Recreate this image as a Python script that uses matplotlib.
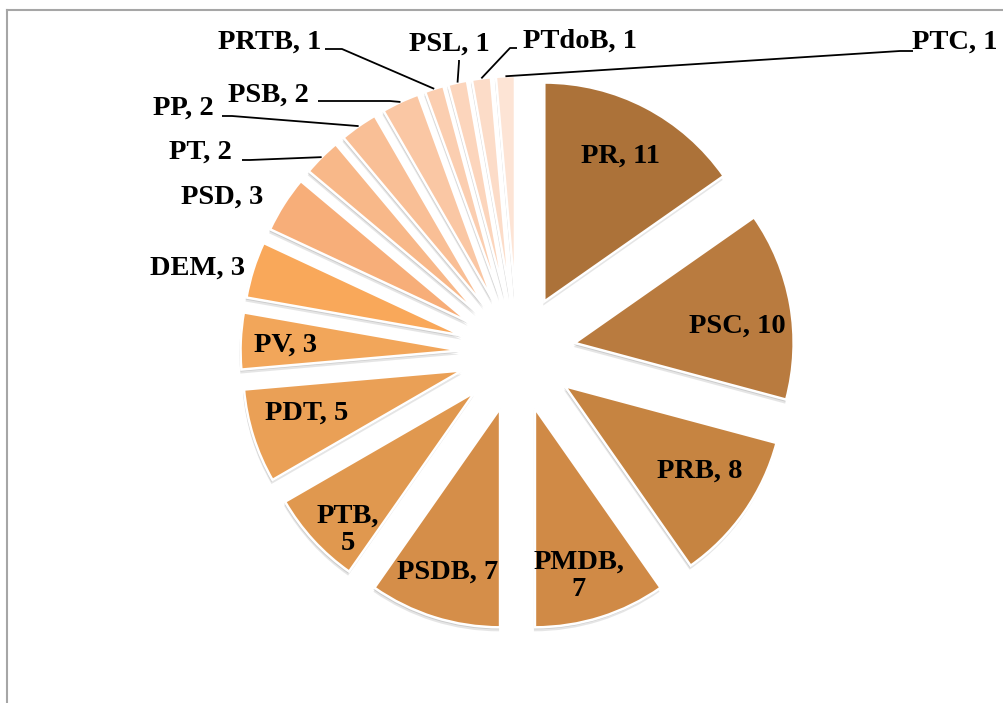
import matplotlib.pyplot as plt
from matplotlib.lines import Line2D
import numpy as np

W, H = 1004, 703

parties = ["PR", "PSC", "PRB", "PMDB", "PSDB", "PTB", "PDT", "PV", "DEM", "PSD",
           "PT", "PP", "PSB", "PRTB", "PSL", "PTdoB", "PTC"]
seats = [11, 10, 8, 7, 7, 5, 5, 3, 3, 3, 2, 2, 2, 1, 1, 1, 1]
colors = ["#AC7239", "#B97B3F", "#C68441", "#D08A46", "#D58E49", "#E0984F", "#EAA056",
          "#F2A65A", "#F9A85A", "#F7AE79", "#F8B889", "#F9BF96", "#FAC7A4", "#FBCEB0",
          "#FCD5BC", "#FCDCC8", "#FDE4D5"]

# label text positions in pixels (x, y from top); split = two-line label
label_pos = {
    "PR": (621, 156), "PSC": (737, 326), "PRB": (700, 471), "PMDB": (579, 576),
    "PSDB": (448, 572), "PTB": (348, 530), "PDT": (307, 413), "PV": (286, 345),
    "DEM": (198, 268), "PSD": (222, 197), "PT": (200, 152), "PP": (183, 108),
    "PSB": (268, 95), "PRTB": (270, 42), "PSL": (449, 44), "PTdoB": (580, 41),
    "PTC": (955, 42),
}
two_line = ["PMDB", "PTB"]
# leader lines: start point next to the label and a short elbow
leaders = {
    "PT": ((242, 160), (250, 160)), "PP": ((222, 116), (232, 116)),
    "PSB": ((318, 101), (390, 101)), "PRTB": ((325, 49), (342, 49)),
    "PSL": ((459, 60), (459, 62)), "PTdoB": ((517, 48), (510, 48)),
    "PTC": ((913, 51), (900, 51)),
}

cx, cy, R, gap = 517.5, 353, 219, 58


def px(x, y):
    return x, H - y


fig = plt.figure(figsize=(W / 100, H / 100), dpi=100)
ax = fig.add_axes([0, 0, 1, 1])

# soft shadow behind the slices
for off, a in [((-1, 4), 0.25), ((-1, 2), 0.35)]:
    ax.pie(seats, center=px(cx + off[0], cy + off[1]), radius=R, startangle=90,
           counterclock=False, explode=[gap] * len(seats), colors=["#9a9a9a"] * len(seats),
           wedgeprops=dict(linewidth=0, alpha=a), frame=True)

wedges, _ = ax.pie(seats, center=px(cx, cy), radius=R, startangle=90, counterclock=False,
                   explode=[gap] * len(seats), colors=colors,
                   wedgeprops=dict(edgecolor="white", linewidth=1.8), frame=True)

font = dict(family="Liberation Serif", fontweight="bold", fontsize=20.5, color="black")
for w, name, val in zip(wedges, parties, seats):
    txt = f"{name},\n{val}" if name in two_line else f"{name}, {val}"
    x, y = label_pos[name]
    ax.text(*px(x, y), txt, ha="center", va="center", linespacing=1.15, **font)
    if name in leaders:
        tm = np.deg2rad((w.theta1 + w.theta2) / 2)
        ex = w.center[0] + w.r * np.cos(tm)
        ey = w.center[1] + w.r * np.sin(tm)
        (x0, y0), (x1, y1) = leaders[name]
        ax.plot([px(x0, y0)[0], px(x1, y1)[0], ex], [px(x0, y0)[1], px(x1, y1)[1], ey],
                color="black", lw=1.3, solid_capstyle="butt")

ax.set_xlim(0, W)
ax.set_ylim(0, H)
ax.set_aspect("equal")
ax.axis("off")

# chart frame (top and left edges visible)
fig.add_artist(Line2D([7 / W, 1], [1 - 10 / H, 1 - 10 / H], color="#a6a6a6", lw=1.5))
fig.add_artist(Line2D([7 / W, 7 / W], [0, 1 - 10 / H], color="#a6a6a6", lw=1.5))

fig.savefig("out.png", dpi=100)
